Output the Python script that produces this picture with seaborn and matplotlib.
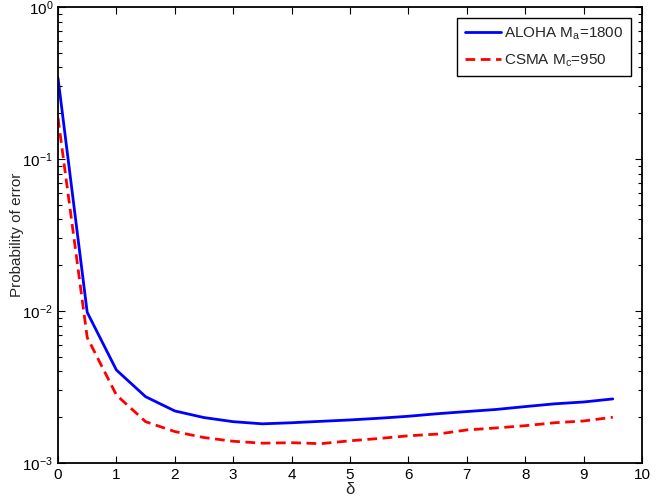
import numpy as np
import pandas as pd
import matplotlib
matplotlib.use("Agg")
import matplotlib.pyplot as plt
import matplotlib.ticker as mticker
import seaborn as sns

delta = [0, 0.5, 1, 1.5, 2, 2.5, 3, 3.5, 4, 4.5, 5, 5.5, 6, 6.5, 7, 7.5, 8, 8.5, 9, 9.5]
aloha_err = [0.341, 0.0098, 0.00409, 0.00273, 0.0022, 0.00199, 0.00187, 0.00181, 0.00184, 0.00188,
             0.00192, 0.00197, 0.00203, 0.00211, 0.00218, 0.00225, 0.00235, 0.00245, 0.00252, 0.00264]
csma_err = [0.186, 0.0067, 0.0028, 0.00187, 0.00161, 0.00147, 0.00139, 0.00135, 0.00136, 0.00134,
            0.0014, 0.00145, 0.00151, 0.00155, 0.00165, 0.0017, 0.00176, 0.00184, 0.00189, 0.002]
labels = ["ALOHA M$_a$=1800", "CSMA M$_c$=950"]

df = pd.concat([
    pd.DataFrame({"delta": delta, "err": aloha_err, "scheme": labels[0]}),
    pd.DataFrame({"delta": delta, "err": csma_err, "scheme": labels[1]}),
])

sns.set_style("ticks")
plt.rcParams["font.family"] = ["Liberation Sans", "DejaVu Sans"]
plt.rcParams["mathtext.default"] = "regular"
plt.rcParams["xtick.direction"] = "in"
plt.rcParams["ytick.direction"] = "in"

fig = plt.figure(figsize=(6.68, 5.03), dpi=100)
ax = fig.add_axes([58 / 668, 40 / 503, 584 / 668, 456 / 503])

sns.lineplot(data=df, x="delta", y="err", hue="scheme", style="scheme",
             palette={labels[0]: "#0000ff", labels[1]: "#ff0000"},
             dashes={labels[0]: "", labels[1]: (3.5, 2)},
             linewidth=2, ax=ax)

ax.set_yscale("log")
ax.set_xlim(0, 10)
ax.set_ylim(1e-3, 1)
ax.set_xticks(range(0, 11))
ax.yaxis.set_major_locator(mticker.LogLocator(base=10, numticks=10))
ax.yaxis.set_minor_locator(mticker.LogLocator(base=10, subs=np.arange(2, 10), numticks=10))
ax.yaxis.set_minor_formatter(mticker.NullFormatter())
ax.tick_params(which="both", top=True, right=True, labelsize=11, width=0.8, colors="black")
ax.tick_params(which="major", length=5)
ax.tick_params(which="minor", length=3)
for s in ax.spines.values():
    s.set_linewidth(1.3)
    s.set_color("black")

ax.set_xlabel("δ", fontsize=12, labelpad=0)
ax.set_ylabel("Probability of error", fontsize=11)
ax.yaxis.set_label_coords(-0.058, 0.5)

leg = ax.legend(loc="upper right", fontsize=11, fancybox=False, framealpha=1,
                edgecolor="black", borderaxespad=0.7, handlelength=2.4,
                handletextpad=0.2, borderpad=0.5, labelspacing=0.7)
leg.get_frame().set_linewidth(1.0)

fig.savefig("out.png", dpi=100)
